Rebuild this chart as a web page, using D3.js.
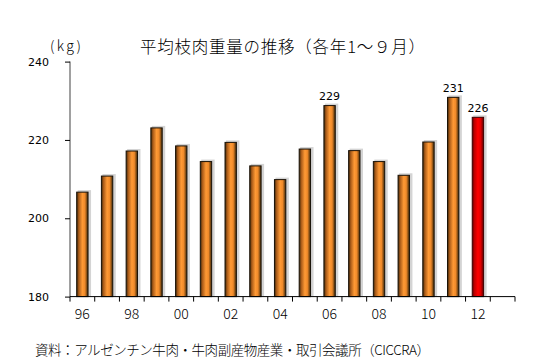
<!DOCTYPE html>
<html><head><meta charset="utf-8">
<script src="https://cdn.jsdelivr.net/npm/d3@7"></script>
<style>body{margin:0;background:#fff}svg{display:block}</style>
</head><body>
<script>
const categories = ["96","97","98","99","00","01","02","03","04","05","06","07","08","09","10","11","12","13"];
const values = [206.8,210.9,217.3,223.2,218.6,214.6,219.5,213.5,210.0,217.8,228.9,217.4,214.6,211.1,219.6,231.0,225.9,null];
const labelled = {"06":"229","11":"231","12":"226"};
const highlight = "12";
const yTicks = [180,200,220,240];
const xTickLabels = ["96","98","00","02","04","06","08","10","12"];
const title = "平均枝肉重量の推移（各年1～９月）";
const unit = "(kg)";
const source = "資料：アルゼンチン牛肉・牛肉副産物産業・取引会議所（CICCRA）";

const W=537,H=364;
const svg=d3.select("body").append("svg").attr("width",W).attr("height",H);
const defs=svg.append("defs");
function grad(id,stops){const g=defs.append("linearGradient").attr("id",id).attr("x1","0%").attr("x2","100%");
 stops.forEach(s=>g.append("stop").attr("offset",s[0]).attr("stop-color",s[1]));}
grad("og",[["0%","#3a2608"],["18%","#a85a18"],["50%","#ff9a35"],["72%","#f08a2a"],["100%","#3a2608"]]);
grad("rg",[["0%","#5a0000"],["20%","#c00000"],["50%","#ff0000"],["75%","#e00000"],["100%","#5a0000"]]);

const x=d3.scaleBand().domain(categories).range([70,515]).paddingInner(0.5).paddingOuter(0.25);
const xb=d3.scaleBand().domain(categories).range([70,515]);
const y=d3.scaleLinear().domain([180,240]).range([296.6,61.6]);

const data=categories.map((c,i)=>({c,v:values[i]})).filter(d=>d.v!=null);
svg.append("g").selectAll("rect").data(data).join("rect")
 .attr("x",d=>x(d.c)+1.5).attr("y",d=>y(d.v)-1.5).attr("width",x.bandwidth()+1).attr("height",d=>y(180)-y(d.v)+1.5)
 .attr("fill","#d4d4d4");
svg.append("g").selectAll("rect").data(data).join("rect")
 .attr("x",d=>x(d.c)+0.5).attr("y",d=>y(d.v)+0.5).attr("width",x.bandwidth()-1).attr("height",d=>y(180)-y(d.v)-0.5)
 .attr("fill",d=>d.c===highlight?"url(#rg)":"url(#og)")
 .attr("stroke",d=>d.c===highlight?"#400000":"#1a1208").attr("stroke-width",1);

const ya=svg.append("g").attr("transform","translate(70,0)")
 .call(d3.axisLeft(y).tickValues(yTicks).tickSize(5).tickPadding(4));
ya.select(".domain").attr("stroke","#808080").attr("stroke-width",1.5).attr("d","M0,61.6V296.6");
ya.selectAll(".tick line").attr("stroke","#000");
ya.selectAll("text").attr("font-family","Verdana, DejaVu Sans, sans-serif").attr("font-size",11).attr("fill","#000").attr("dx",-12);

const xa=svg.append("g").attr("transform","translate(0,296.6)");
xa.append("line").attr("x1",70).attr("x2",515).attr("y1",0).attr("y2",0).attr("stroke","#000");
xa.selectAll("line.t").data(categories.concat(["end"])).join("line").attr("class","t")
 .attr("x1",(d,i)=>i<categories.length?xb(d):515).attr("x2",(d,i)=>i<categories.length?xb(d):515)
 .attr("y1",0).attr("y2",5).attr("stroke","#000");
xa.selectAll("text").data(xTickLabels).join("text")
 .attr("x",d=>xb(d)+xb.bandwidth()/2).attr("y",22).attr("text-anchor","middle")
 .attr("font-family","Noto Sans CJK JP, sans-serif").attr("font-size",14).attr("font-weight",300).text(d=>d);

svg.append("g").selectAll("text").data(data.filter(d=>labelled[d.c])).join("text")
 .attr("x",d=>x(d.c)+x.bandwidth()/2).attr("y",d=>y(d.v)-5).attr("text-anchor","middle")
 .attr("font-family","Verdana, DejaVu Sans, sans-serif").attr("font-size",11).text(d=>labelled[d.c]);

svg.append("text").attr("x",140).attr("y",53).attr("textLength",285).attr("lengthAdjust","spacing")
 .attr("font-family","Noto Sans CJK JP, sans-serif").attr("font-size",16.5).attr("font-weight",300).text(title);
svg.append("text").attr("x",50).attr("y",51).attr("textLength",31).attr("lengthAdjust","spacing")
 .attr("font-family","Noto Sans CJK JP, sans-serif").attr("font-size",14).attr("font-weight",300).text(unit);
svg.append("text").attr("x",35).attr("y",355).attr("textLength",395).attr("lengthAdjust","spacing")
 .attr("font-family","Noto Sans CJK JP, sans-serif").attr("font-size",13.5).attr("font-weight",300).text(source);
</script>
</body></html>
